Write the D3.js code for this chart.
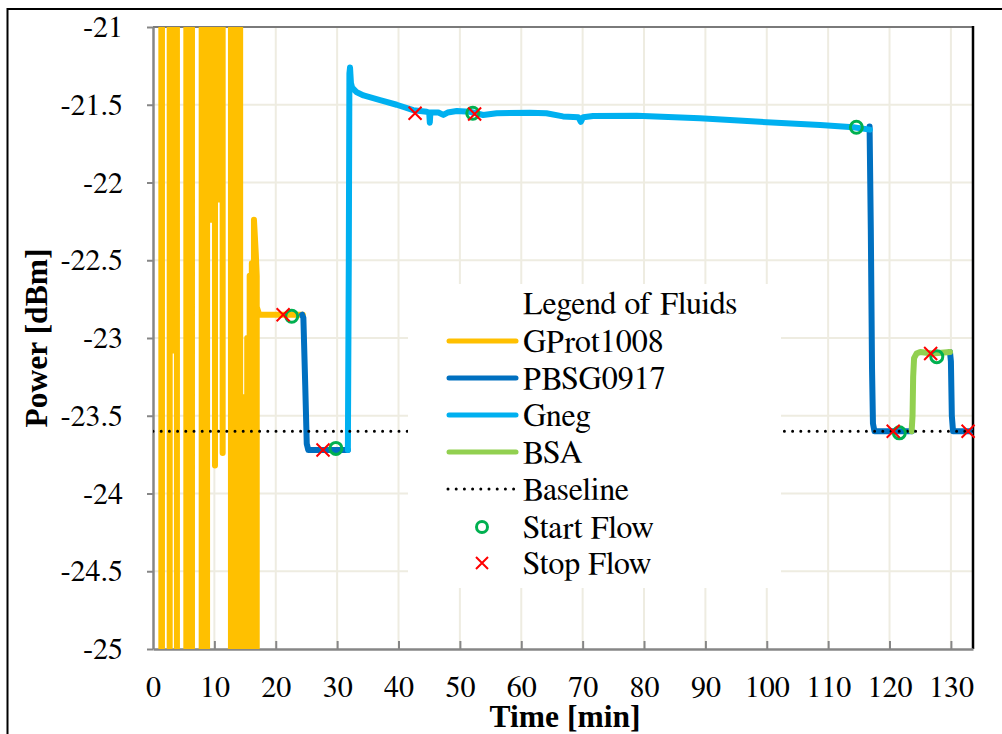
<!DOCTYPE html>
<html>
<head>
<meta charset="utf-8">
<script src="https://cdn.jsdelivr.net/npm/d3@7"></script>
<style>
  html, body { margin: 0; padding: 0; background: #fff; }
  svg { display: block; }
</style>
</head>
<body>
<svg id="chart" width="1002" height="734"></svg>
<script>
// ---------------- DATA ----------------
const xTicks = [0, 10, 20, 30, 40, 50, 60, 70, 80, 90, 100, 110, 120, 130];
const xTickLabels = ["0", "10", "20", "30", "40", "50", "60", "70", "80", "90", "100", "110", "120", "130"];
const yTicks = [-25, -24.5, -24, -23.5, -23, -22.5, -22, -21.5, -21];
const yTickLabels = ["-25", "-24.5", "-24", "-23.5", "-23", "-22.5", "-22", "-21.5", "-21"];

// GProt1008 (yellow): strongly oscillating trace, values beyond the axis range are clipped
const gprot1008 = [
  [1.36,-26.4],[1.36,-19.6],[1.46,-19.6],[1.46,-26.4],
  [2.72,-26.4],[2.72,-19.6],
  [3.30,-19.6],[3.30,-23.08],[3.30,-19.6],
  [3.90,-19.6],[3.90,-26.4],
  [5.43,-26.4],[5.43,-19.6],[5.90,-19.6],[5.90,-26.4],[6.35,-26.4],[6.35,-19.6],
  [7.93,-19.6],[7.93,-26.4],[8.40,-26.4],[8.40,-19.6],[8.81,-19.6],[8.81,-26.4],[8.81,-19.6],
  [9.45,-19.6],[9.45,-22.24],[9.45,-19.6],
  [10.10,-19.6],[10.10,-23.82],[10.10,-19.6],
  [10.77,-19.6],[10.77,-22.11],[10.77,-19.6],
  [11.35,-19.6],[11.35,-23.74],[11.35,-19.6],
  [12.70,-19.6],[12.70,-26.4],[13.10,-26.4],[13.10,-19.6],[13.50,-19.6],[13.50,-26.4],
  [13.90,-26.4],[13.90,-19.6],[14.20,-19.6],[14.20,-26.4],
  [14.90,-26.4],[14.90,-23.38],[14.90,-26.4],
  [15.35,-26.4],[15.35,-23.00],[15.35,-26.4],
  [15.75,-26.4],[15.75,-22.60],[15.75,-26.4],
  [16.10,-26.4],[16.10,-22.52],[16.10,-26.4],
  [16.45,-26.4],[16.45,-22.24],[16.75,-22.46],[16.90,-22.60],[16.90,-26.4],[16.90,-22.80],
  [17.30,-22.85],[20.0,-22.85],[22.0,-22.85],[24.40,-22.85]
];

// PBSG0917 (dark blue) - three segments
const pbsgA = [[24.30,-22.85],[24.50,-22.87],[24.80,-23.30],[25.05,-23.68],[25.30,-23.72],[28.0,-23.72],[31.75,-23.72]];
const pbsgB = [[116.75,-21.64],[116.95,-22.30],[117.15,-23.20],[117.30,-23.55],[117.55,-23.60],[120.0,-23.60],[123.65,-23.60]];
const pbsgC = [[129.85,-23.09],[130.00,-23.15],[130.15,-23.50],[130.35,-23.60],[132.0,-23.60],[133.6,-23.60]];

// Gneg (light blue)
const gneg = [
  [31.75,-23.72],[31.90,-22.50],[32.00,-21.30],[32.10,-21.26],[32.25,-21.36],[32.45,-21.39],
  [33.2,-21.42],[34.3,-21.44],[37.0,-21.47],[39.7,-21.50],[42.4,-21.535],[44.6,-21.545],
  [45.0,-21.55],[45.1,-21.615],[45.2,-21.55],[46.5,-21.55],[47.3,-21.565],[48.0,-21.55],
  [49.5,-21.54],[51.6,-21.545],[53.8,-21.566],[56.0,-21.555],[61.4,-21.551],[64.1,-21.555],
  [66.8,-21.575],[69.3,-21.58],[69.7,-21.61],[70.1,-21.58],[71.7,-21.572],[78.8,-21.57],
  [89.1,-21.587],[98.9,-21.61],[108.7,-21.63],[114.1,-21.645],[116.8,-21.66]
];

// BSA (green)
const bsa = [[123.60,-23.60],[123.75,-23.50],[123.85,-23.25],[124.00,-23.13],[124.40,-23.10],[125.0,-23.09],[127.0,-23.10],[129.85,-23.09]];

const baselineValue = -23.6;

const startFlowT = [22.6, 29.8, 52.1, 114.6, 121.6, 127.7];
const startFlowV = [-22.86, -23.71, -21.555, -21.645, -23.61, -23.12];
const stopFlowT = [21.2, 27.7, 42.7, 52.4, 120.6, 126.7, 132.8];
const stopFlowV = [-22.85, -23.72, -21.555, -21.56, -23.60, -23.10, -23.60];

const legendNames = ["GProt1008", "PBSG0917", "Gneg", "BSA", "Baseline", "Start Flow", "Stop Flow"];
const colors = { GProt1008: "#FFC000", PBSG0917: "#0070C0", Gneg: "#00B0F0", BSA: "#92D050", start: "#00B050", stop: "#FF0000" };

// ---------------- LAYOUT ----------------
const FONT = "FreeSerif, Nimbus Roman, Liberation Serif, serif";
const FONT_BOLD = "Liberation Serif, serif";
const svg = d3.select("#chart");
const plot = { left: 153, right: 973, top: 27, bottom: 649 };

const x = d3.scaleLinear().domain([0, 133.6]).range([plot.left, plot.right]);
const y = d3.scaleLinear().domain([-25, -21]).range([plot.bottom, plot.top]);

svg.append("rect").attr("width", 1002).attr("height", 734).attr("fill", "#fff");
svg.append("path").attr("d", "M7.5,734V9H1002").attr("fill", "none").attr("stroke", "#000").attr("stroke-width", 2);

// gridlines
const grid = svg.append("g");
grid.selectAll("line.v").data(xTicks.slice(1)).join("line")
  .attr("x1", d => x(d)).attr("x2", d => x(d)).attr("y1", plot.top).attr("y2", plot.bottom)
  .attr("stroke", "#EEECE1").attr("stroke-width", 2);
grid.selectAll("line.h").data(yTicks.slice(1, -1)).join("line")
  .attr("x1", plot.left).attr("x2", plot.right).attr("y1", d => y(d)).attr("y2", d => y(d))
  .attr("stroke", "#EEECE1").attr("stroke-width", 2);

// plot border
svg.append("line").attr("x1", plot.left).attr("x2", plot.right).attr("y1", plot.top).attr("y2", plot.top)
  .attr("stroke", "#7a7a7a").attr("stroke-width", 2);
svg.append("line").attr("x1", plot.right).attr("x2", plot.right).attr("y1", plot.top - 1).attr("y2", plot.bottom)
  .attr("stroke", "#000").attr("stroke-width", 2.5);

// axes
const yAxis = d3.axisLeft(y).tickValues(yTicks).tickSizeInner(6).tickSizeOuter(0).tickPadding(24)
  .tickFormat((d, i) => yTickLabels[i]);
const xAxis = d3.axisBottom(x).tickValues(xTicks).tickSizeInner(-8).tickSizeOuter(0).tickPadding(27)
  .tickFormat((d, i) => xTickLabels[i]);
const gy = svg.append("g").attr("transform", `translate(${plot.left},0)`).call(yAxis);
const gx = svg.append("g").attr("transform", `translate(0,${plot.bottom})`).call(xAxis);
[gx, gy].forEach(g => {
  g.attr("font-family", FONT).attr("font-size", 30);
  g.select(".domain").attr("stroke", "#868686").attr("stroke-width", 2.5);
  g.selectAll(".tick line").attr("stroke", "#868686").attr("stroke-width", 2);
  g.selectAll(".tick text").attr("fill", "#000").style("font-family", FONT).style("font-size", "30px");
});
gx.selectAll(".tick line").filter(d => d === 0).remove();

// series
svg.append("defs").append("clipPath").attr("id", "plotclip").append("rect")
  .attr("x", plot.left).attr("y", plot.top).attr("width", plot.right - plot.left).attr("height", plot.bottom - plot.top);
const line = d3.line().x(d => x(d[0])).y(d => y(d[1]));
const series = svg.append("g").attr("clip-path", "url(#plotclip)");
function drawLine(data, color, w) {
  series.append("path").datum(data).attr("d", line)
    .attr("fill", "none").attr("stroke", color).attr("stroke-width", w)
    .attr("stroke-linejoin", "round").attr("stroke-linecap", "round");
}
drawLine(gprot1008, colors.GProt1008, 6);
drawLine(pbsgA, colors.PBSG0917, 6);
drawLine(pbsgB, colors.PBSG0917, 6);
drawLine(pbsgC, colors.PBSG0917, 6);
drawLine(gneg, colors.Gneg, 6);
drawLine(bsa, colors.BSA, 6);

series.append("line").attr("x1", x(0)).attr("x2", x(133.6)).attr("y1", y(baselineValue)).attr("y2", y(baselineValue))
  .attr("stroke", "#000").attr("stroke-width", 3).attr("stroke-linecap", "round")
  .attr("stroke-dasharray", "0 8.2");

// markers
const markers = svg.append("g");
markers.selectAll("circle").data(startFlowT.map((t, i) => [t, startFlowV[i]])).join("circle")
  .attr("cx", d => x(d[0])).attr("cy", d => y(d[1])).attr("r", 6)
  .attr("fill", "none").attr("stroke", colors.start).attr("stroke-width", 3);
const xs = 6.5;
markers.selectAll("path.x").data(stopFlowT.map((t, i) => [t, stopFlowV[i]])).join("path")
  .attr("d", d => { const cx = x(d[0]), cy = y(d[1]);
    return `M${cx - xs},${cy - xs}L${cx + xs},${cy + xs}M${cx - xs},${cy + xs}L${cx + xs},${cy - xs}`; })
  .attr("stroke", colors.stop).attr("stroke-width", 2).attr("fill", "none");

// legend
svg.append("rect").attr("x", 408).attr("y", 284).attr("width", 373).attr("height", 304).attr("fill", "#fff");
svg.append("text").attr("x", 523).attr("y", 314)
  .style("font-family", FONT).style("font-size", "32px").text("Legend of Fluids");
const rowY = [341, 378, 415, 452, 489, 527, 563];
legendNames.forEach((name, i) => {
  const cy = rowY[i];
  if (i < 4) {
    svg.append("line").attr("x1", 449).attr("x2", 516).attr("y1", cy).attr("y2", cy)
      .attr("stroke", colors[name]).attr("stroke-width", 5).attr("stroke-linecap", "round");
  } else if (i === 4) {
    svg.append("line").attr("x1", 448).attr("x2", 516).attr("y1", cy).attr("y2", cy)
      .attr("stroke", "#000").attr("stroke-width", 3).attr("stroke-linecap", "round").attr("stroke-dasharray", "0 8.2");
  } else if (i === 5) {
    svg.append("circle").attr("cx", 482).attr("cy", cy).attr("r", 5.5)
      .attr("fill", "none").attr("stroke", colors.start).attr("stroke-width", 3);
  } else {
    svg.append("path").attr("d", `M${482 - 6},${cy - 6}L${482 + 6},${cy + 6}M${482 - 6},${cy + 6}L${482 + 6},${cy - 6}`)
      .attr("stroke", colors.stop).attr("stroke-width", 2);
  }
  svg.append("text").attr("x", 523).attr("y", cy + 11)
    .style("font-family", FONT).style("font-size", "32px").text(name);
});

// axis titles
svg.append("text").attr("x", 565).attr("y", 727).attr("text-anchor", "middle")
  .style("font-family", FONT_BOLD).style("font-size", "31.5px").style("font-weight", "bold").text("Time [min]");
svg.append("text").attr("transform", "translate(47,338) rotate(-90)").attr("text-anchor", "middle")
  .style("font-family", FONT_BOLD).style("font-size", "31.5px").style("font-weight", "bold").text("Power [dBm]");
</script>
</body>
</html>
